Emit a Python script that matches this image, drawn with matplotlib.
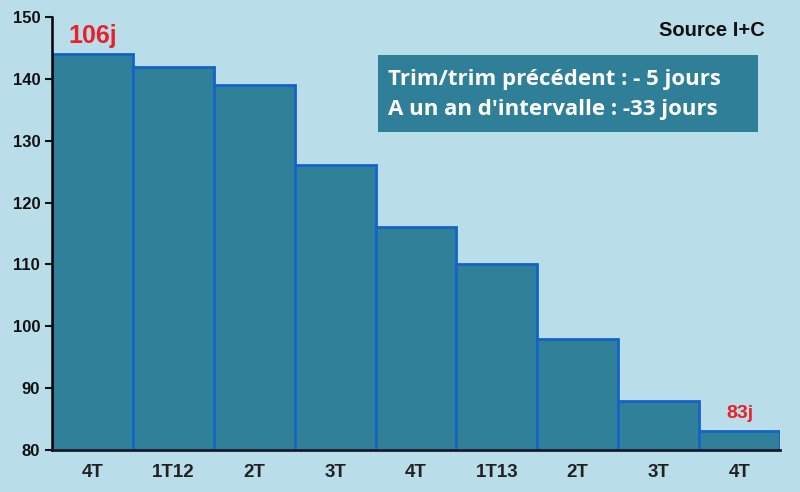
import matplotlib
matplotlib.use("Agg")
import matplotlib.pyplot as plt
from matplotlib.patches import Rectangle

# donnees
trimestres = ["4T", "1T12", "2T", "3T", "4T", "1T13", "2T", "3T", "4T"]
delais = [144, 142, 139, 126, 116, 110, 98, 88, 83]
yticks = [80, 90, 100, 110, 120, 130, 140, 150]

fond = "#b9dde9"
plt.rcParams['font.family'] = ['Liberation Sans', 'DejaVu Sans']

fig = plt.figure(figsize=(8, 4.92), dpi=100, facecolor=fond)
ax = fig.add_axes([0.065, 0.0854, 0.91, 0.88])
ax.set_facecolor(fond)

x = range(len(delais))
ax.bar(x, delais, width=1.0, color="#2f8098", edgecolor="#1463c8", linewidth=2, zorder=2)

ax.set_ylim(80, 150)
ax.set_xlim(-0.5, 8.5)
ax.set_yticks(yticks)
ax.set_xticks(list(x))
ax.set_xticklabels(trimestres, fontweight="bold", fontsize=13.5, color="#222222")
ax.tick_params(axis="y", labelsize=12, direction="out", length=5, width=1.5, colors="#111111")
for lab in ax.get_yticklabels():
    lab.set_fontweight("bold")
ax.tick_params(axis="x", length=0, pad=10)

for s in ["top", "right"]:
    ax.spines[s].set_visible(False)
ax.spines["left"].set_linewidth(1.8)
ax.spines["bottom"].set_linewidth(2)
ax.spines["bottom"].set_color("#1a1a2a")
ax.spines["left"].set_zorder(3)
ax.spines["bottom"].set_zorder(3)

# etiquettes rouges
ax.text(0, 145.8, "106j", color="#e8202a", fontsize=18, fontweight="bold", ha="center", va="baseline")
ax.text(8, 85.2, "83j", color="#e8202a", fontsize=14, fontweight="bold", ha="center", va="baseline")

fig.text(0.89, 1 - 30 / 492, "Source I+C", fontsize=14.5, fontweight="bold", color="#111111",
         ha="center", va="center")

box = Rectangle((0.4725, 1 - 132 / 492), 0.475, 77 / 492, transform=fig.transFigure,
                facecolor="#2f7f98", edgecolor="none", zorder=5)
fig.patches.append(box)
fig.text(0.485, 1 - 85 / 492, "Trim/trim précédent : - 5 jours", fontsize=16, fontweight="bold",
         family=["Open Sans", "DejaVu Sans"], color="white", ha="left", va="baseline", zorder=6)
fig.text(0.485, 1 - 115 / 492, "A un an d'intervalle : -33 jours", fontsize=16, fontweight="bold",
         family=["Open Sans", "DejaVu Sans"], color="white", ha="left", va="baseline", zorder=6)

fig.savefig("out.png", dpi=100, facecolor=fond)
